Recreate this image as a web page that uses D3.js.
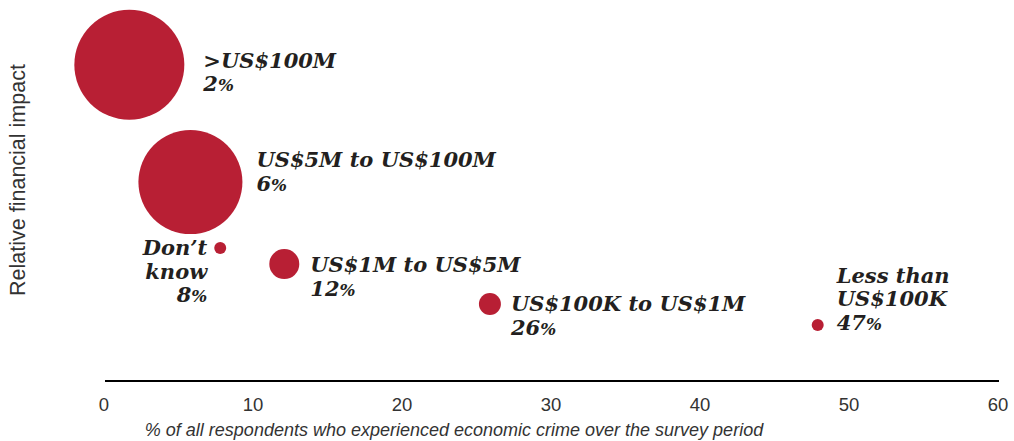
<!DOCTYPE html>
<html>
<head>
<meta charset="utf-8">
<script src="https://cdn.jsdelivr.net/npm/d3@7"></script>
<style>
  body { margin: 0; background: #fff; }
  svg { display: block; }
</style>
</head>
<body>
<div id="chart"></div>
<script>
var width = 1014, height = 441;

// loss bands
var bands = [">US$100M", "US$5M to US$100M", "Don\u2019t know", "US$1M to US$5M", "US$100K to US$1M", "Less than US$100K"];
var shares = [2, 6, 8, 12, 26, 47];               // % of respondents (label)
var xPlot = [1.7, 5.8, 7.8, 12.1, 25.9, 47.9];     // plotted position on x axis
var impact = [83, 52.2, 34.9, 30.7, 20.2, 14.7];   // relative financial impact (arbitrary)
var bubbleSize = [3025, 2704, 36, 225, 121, 36];   // relative bubble area
var xTicks = [0, 10, 20, 30, 40, 50, 60];

// label lines for each bubble
var labelLines = [
    [">US$100M"],
    ["US$5M to US$100M"],
    ["Don\u2019t", "know"],
    ["US$1M to US$5M"],
    ["US$100K to US$1M"],
    ["Less than", "US$100K"]
];

var margin = {left: 104, right: 16, top: 0, bottom: 60};
var axisY = 381;

var x = d3.scaleLinear().domain([0, 60]).range([margin.left, width - margin.right]);
var y = d3.scaleLinear().domain([0, 100]).range([axisY, 0]);
var r = d3.scaleSqrt().domain([0, 3025]).range([0, 55]);

var red = "#b81f34";
var ink = "#231f20";
var serif = "'DejaVu Serif', Georgia, serif";
var sans = "'Liberation Sans', Arial, sans-serif";

var svg = d3.select("#chart")
    .append("svg")
    .attr("width", width)
    .attr("height", height);

var rows = bands.map(function (b, i) {
    return {band: b, share: shares[i], xv: xPlot[i], yv: impact[i], size: bubbleSize[i], lines: labelLines[i]};
});

// bubbles
svg.selectAll(".bubble")
    .data(rows)
    .enter()
    .append("circle")
    .attr("class", "bubble")
    .attr("cx", function (d) { return x(d.xv); })
    .attr("cy", function (d) { return y(d.yv); })
    .attr("r", function (d) { return r(d.size); })
    .attr("fill", red);

// labels - offsets relative to bubble
var lineH = 23.5;
var fs = 21;

rows.forEach(function (d, i) {
    var cx = x(d.xv), cy = y(d.yv), rr = r(d.size);
    var lx, ly, anchor = "start";
    if (i == 2) {
        // don't know sits to the left
        lx = cx - 13; ly = cy + 7; anchor = "end";
    } else if (i == 5) {
        lx = cx + 19; ly = cy - 42;
    } else {
        lx = cx + rr + 19;
        ly = cy + 3;
        if (i == 4) { lx = cx + rr + 10; ly = cy + 7; }
        if (i == 3) { ly = cy + 8; lx = cx + rr + 11; }
        if (i == 1) { lx = cx + rr + 14; ly = cy - 15; }
    }
    var t = svg.append("text")
        .attr("x", lx)
        .attr("y", ly)
        .attr("text-anchor", anchor)
        .attr("font-family", serif)
        .attr("font-weight", "bold")
        .attr("font-style", "italic")
        .attr("font-size", fs)
        .attr("fill", ink);
    d.lines.forEach(function (line, k) {
        t.append("tspan")
            .attr("x", lx)
            .attr("dy", k == 0 ? 0 : lineH)
            .text(line);
    });
    var last = t.append("tspan")
        .attr("x", lx)
        .attr("dy", lineH)
        .text(d.share);
    last.append("tspan")
        .attr("font-size", fs * 0.8)
        .text("%");
});

// x axis
svg.append("line")
    .attr("x1", x(0) + 1)
    .attr("x2", x(60) + 1)
    .attr("y1", axisY)
    .attr("y2", axisY)
    .attr("stroke", "#000")
    .attr("stroke-width", 2);

svg.selectAll(".tick")
    .data(xTicks)
    .enter()
    .append("text")
    .attr("class", "tick")
    .attr("x", function (d) { return x(d); })
    .attr("y", 411)
    .attr("text-anchor", "middle")
    .attr("font-family", sans)
    .attr("font-size", 18.5)
    .attr("fill", "#333")
    .text(function (d) { return d; });

svg.append("text")
    .attr("x", 454)
    .attr("y", 436)
    .attr("text-anchor", "middle")
    .attr("font-family", sans)
    .attr("font-style", "italic")
    .attr("font-size", 18)
    .attr("fill", "#333")
    .text("% of all respondents who experienced economic crime over the survey period");

// y axis title
svg.append("text")
    .attr("transform", "translate(25,180) rotate(-90)")
    .attr("text-anchor", "middle")
    .attr("font-family", sans)
    .attr("font-size", 21.5)
    .attr("fill", "#333")
    .text("Relative financial impact");
</script>
</body>
</html>
